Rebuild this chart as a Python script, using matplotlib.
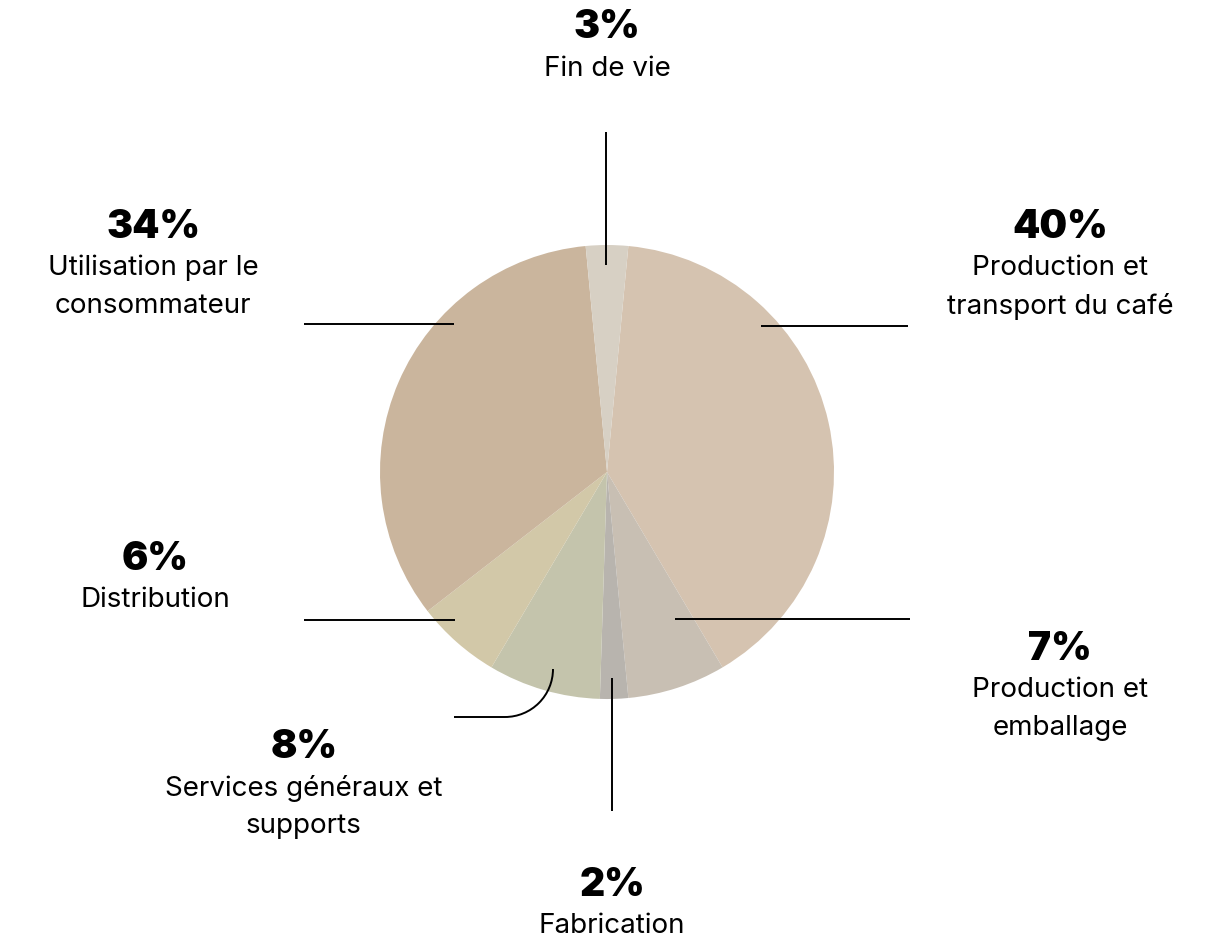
"""
Pie chart of the coffee carbon footprint by life cycle stage
"""
import matplotlib as mpl
import matplotlib.pyplot as plt
from matplotlib.patches import Arc

mpl.use('Agg')

stages = ["Production et\ntransport du café", "Production et\nemballage", "Fabrication",
          "Services généraux et\nsupports", "Distribution",
          "Utilisation par le\nconsommateur", "Fin de vie"]
shares = [40, 7, 2, 8, 6, 34, 3]
colors = ["#D5C3B0", "#C8BFB3", "#B8B4AE", "#C4C4AC", "#D2C8A8", "#CAB59D", "#D7D0C4"]

H = 946
# label anchor (x, y of the percentage, pixels from top) for each stage
label_pos = [(1060, 224), (1060, 646), (612, 882), (304, 744),
             (155, 556), (153, 224), (607, 25)]
# straight leader lines: (x0, y0, x1, y1), pixels from top
leaders = [(761, 326, 908, 326), (675, 619, 910, 619), (612, 678, 612, 811),
           (304, 620, 455, 620), (304, 324, 454, 324), (606, 132, 606, 265)]

fig = plt.figure(figsize=(12.1, 9.46), dpi=100)
ax = fig.add_axes([0, 0, 1, 1])

start = 90 - shares[-1] / 2 * 3.6
ax.pie(shares, colors=colors, startangle=start, counterclock=False,
       center=(607, H - 472), radius=227, wedgeprops={'linewidth': 0})
ax.set_xlim(0, 1210)
ax.set_ylim(0, H)
ax.set_aspect('equal')
ax.axis('off')

for x0, y0, x1, y1 in leaders:
    ax.plot([x0, x1], [H - y0, H - y1], color='black', lw=1.4, solid_capstyle='butt')

# curved leader for services
ax.add_patch(Arc((505, H - 669), 96, 96, theta1=270, theta2=360, color='black', lw=1.4))
ax.plot([454, 505], [H - 717, H - 717], color='black', lw=1.4, solid_capstyle='butt')

for (x, y), share, name in zip(label_pos, shares, stages):
    ax.text(x, H - (y + 3), f"{share}%", ha='center', va='center', fontsize=28,
            fontweight='black', family='Inter')
    for i, line in enumerate(name.split("\n")):
        ax.text(x, H - (y + 44 + 38 * i), line, ha='center', va='center',
                fontsize=20, family='Inter')

fig.savefig("out.png", dpi=100)
